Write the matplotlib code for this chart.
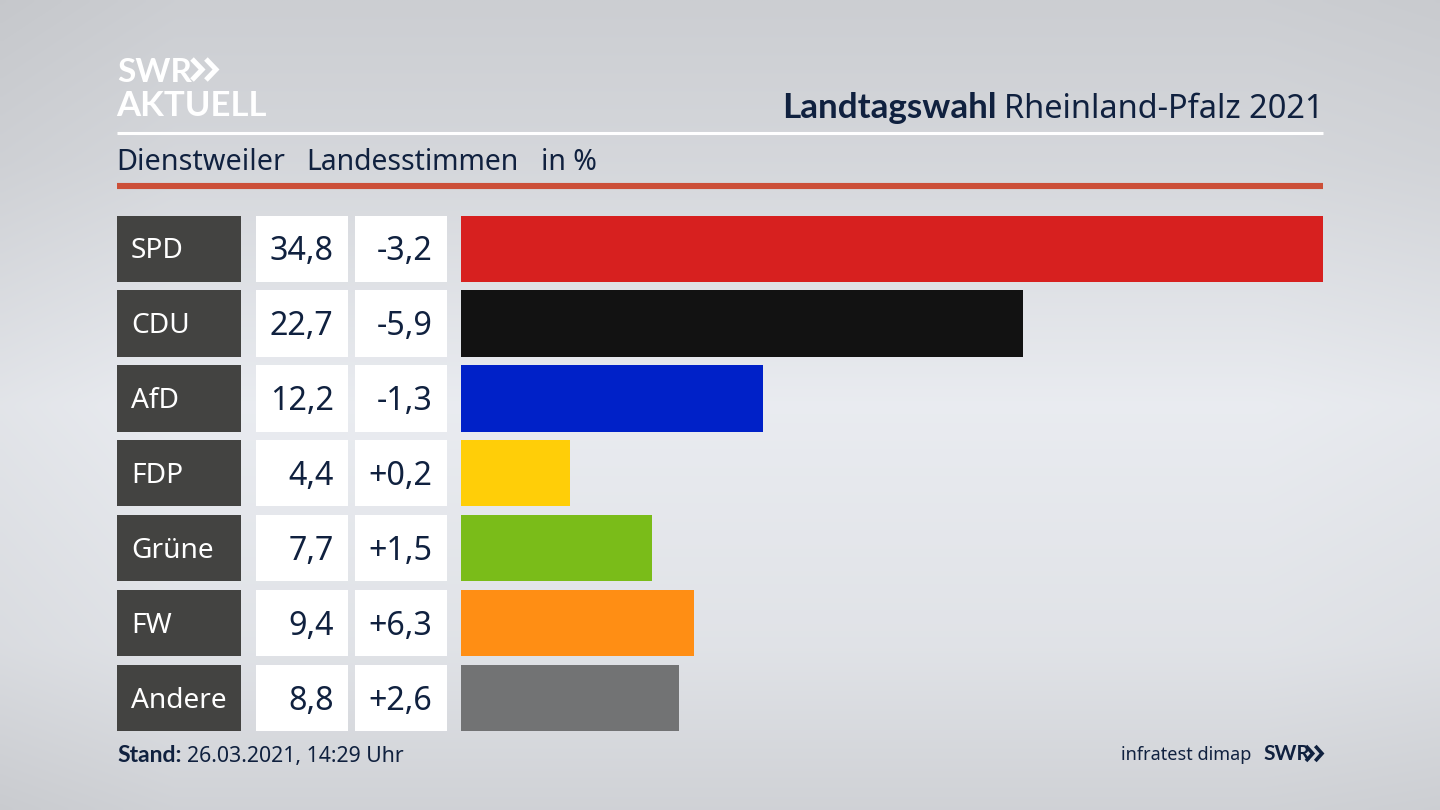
import numpy as np
import matplotlib
matplotlib.use("Agg")
import matplotlib.pyplot as plt

# Landesstimmen Dienstweiler
parties = ["SPD", "CDU", "AfD", "FDP", "Grüne", "FW", "Andere"]
shares = [34.8, 22.7, 12.2, 4.4, 7.7, 9.4, 8.8]
changes = [-3.2, -5.9, -1.3, 0.2, 1.5, 6.3, 2.6]
bar_colors = ["#d7201f", "#121212", "#0021c8", "#ffce08", "#7abc19", "#ff8e14", "#727374"]

W, H = 1440, 810
NAVY = "#10213f"
FONT = "Noto Sans"
BOLD = "Lato"
plt.rcParams["font.family"] = [FONT, "DejaVu Sans"]


def px_axes(fig, left, right, top=211.3, bottom=735.3):
    # axes placed by pixel edges, rows share the same y scale
    ax = fig.add_axes([left / W, 1 - bottom / H, (right - left) / W, (bottom - top) / H])
    ax.set_ylim(6.5, -0.5)
    ax.axis("off")
    return ax


def fmt(v, signed=False):
    s = f"{v:+.1f}" if signed else f"{v:.1f}"
    return s.replace(".", ",")


def chevrons(ax, x0, x1, top, bottom, color, lw):
    # the double arrow of the SWR logo
    arm = (x1 - x0) * 0.42
    step = (x1 - x0) * 0.58
    mid = (top + bottom) / 2
    for dx in (0, step):
        ax.plot([x0 + dx, x0 + dx + arm, x0 + dx], [top, mid, bottom], color=color, lw=lw,
                solid_joinstyle="miter", solid_capstyle="butt")


fig = plt.figure(figsize=(W / 100, H / 100), dpi=100)

# background gradient
bg = fig.add_axes([0, 0, 1, 1])
yy = np.linspace(0, 1, 200)
xx = np.linspace(0, 1, 300)
vert = np.interp(yy, [0, 0.2, 0.5, 0.8, 1], [0.80, 0.835, 0.915, 0.88, 0.815])
horiz = np.interp(xx, [0, 0.12, 0.5, 0.88, 1], [0.97, 1.0, 1.0, 1.0, 0.985])
gray = np.outer(vert, horiz)
rgb = np.dstack([gray, gray * 1.01, gray * 1.03]).clip(0, 1)
bg.imshow(rgb, extent=(0, W, H, 0), aspect="auto", interpolation="bilinear")

# header
bg.text(117, 82, "SWR", color="white", fontsize=24, fontweight="bold", family=BOLD, va="baseline")
chevrons(bg, 192, 216, 59, 80, "white", 3.6)
bg.text(116, 116, "AKTUELL", color="white", fontsize=25, fontweight="bold", family=BOLD, va="baseline")

bg.text(1323, 118, "Rheinland-Pfalz 2021", color=NAVY, fontsize=23.4, ha="right", va="baseline")
bg.text(997, 118, "Landtagswahl", color=NAVY, fontsize=25.2, fontweight="bold", family=BOLD, ha="right", va="baseline")
bg.plot([117, 1323], [133, 133], color="white", lw=2.2, solid_capstyle="butt")

bg.text(116, 170, "Dienstweiler", color=NAVY, fontsize=20.7, va="baseline")
bg.text(306, 170, "Landesstimmen", color=NAVY, fontsize=20.4, va="baseline")
bg.text(541, 170, "in %", color=NAVY, fontsize=20.5, va="baseline")
bg.plot([117, 1323], [186, 186], color="#cc4f38", lw=4.4, solid_capstyle="butt")

# table columns
rows = np.arange(len(parties))
bar_h = 0.885

ax_name = px_axes(fig, 117, 241)
ax_name.barh(rows, [1] * len(rows), height=bar_h, color="#434341")
ax_name.set_xlim(0, 1)

ax_val = px_axes(fig, 256, 348)
ax_val.barh(rows, [1] * len(rows), height=bar_h, color="white")
ax_val.set_xlim(0, 1)

ax_chg = px_axes(fig, 355, 447)
ax_chg.barh(rows, [1] * len(rows), height=bar_h, color="white")
ax_chg.set_xlim(0, 1)

for i in rows:
    ax_name.text(14 / 124, i - 0.01, parties[i], color="white", fontsize=20.2, va="center_baseline")
    ax_val.text(77.5 / 92, i - 0.01, fmt(shares[i]), color=NAVY, fontsize=23.2, ha="right", va="center_baseline")
    ax_chg.text(77.5 / 92, i - 0.01, fmt(changes[i], True), color=NAVY, fontsize=23.2, ha="right", va="center_baseline")

# bars
ax_bar = px_axes(fig, 461, 1323)
ax_bar.barh(rows, shares, height=bar_h, color=bar_colors)
ax_bar.set_xlim(0, max(shares))

# footer
bg.text(117, 762, "Stand:", color=NAVY, fontsize=16.5, fontweight="bold", family=BOLD, va="baseline")
bg.text(187, 762, "26.03.2021, 14:29 Uhr", color=NAVY, fontsize=15.3, va="baseline")
bg.text(1251, 760, "infratest dimap", color=NAVY, fontsize=13, ha="right", va="baseline")
bg.text(1263, 760, "SWR", color=NAVY, fontsize=15, fontweight="bold", family=BOLD, va="baseline")
chevrons(bg, 1306, 1322, 746, 761, NAVY, 2.6)

bg.set_xlim(0, W)
bg.set_ylim(H, 0)
bg.axis("off")

fig.savefig("out.png", dpi=100)
